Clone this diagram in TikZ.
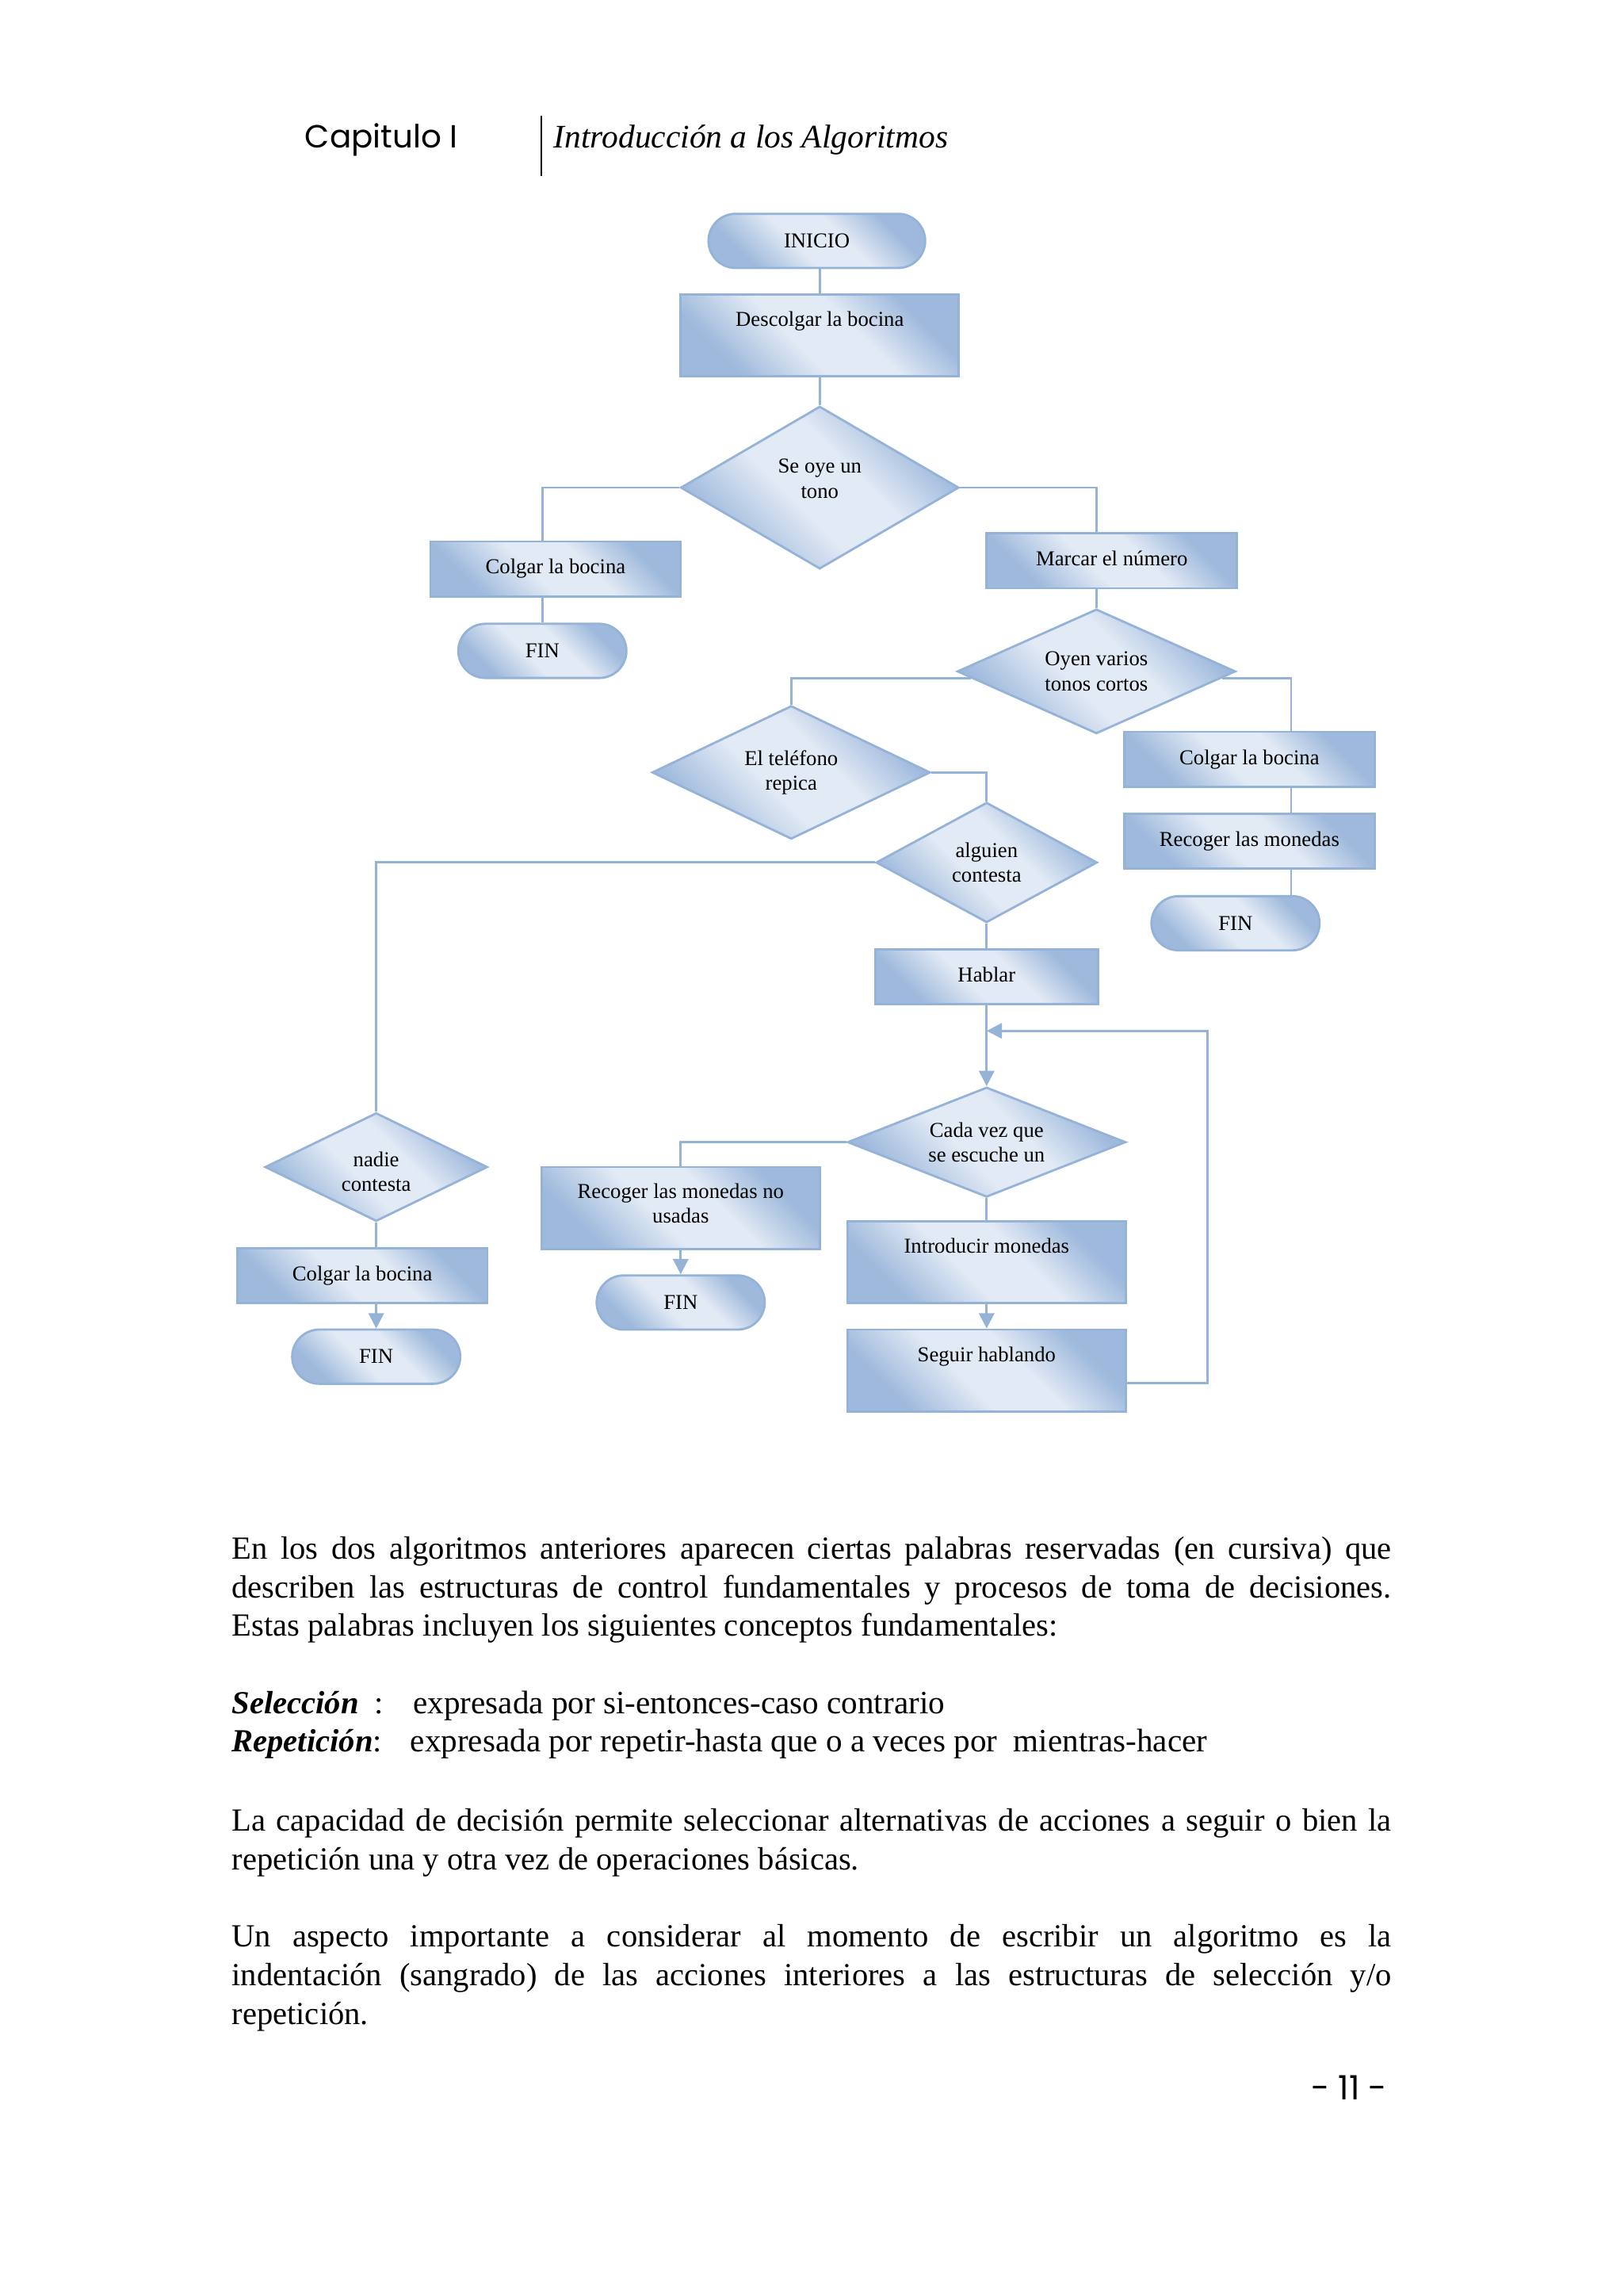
\documentclass[tikz,border=0pt]{standalone}
\usepackage{fontspec}
\setmainfont{Liberation Serif}
\newfontfamily\gothic{Poppins}
\usetikzlibrary{positioning,shapes.geometric,shapes.misc,arrows.meta}
\definecolor{fline}{RGB}{149,179,215}
\definecolor{flight}{RGB}{226,234,245}
\definecolor{fdark}{RGB}{158,185,220}
\pgfdeclareverticalshading{flow}{100bp}{color(0bp)=(fdark); color(27bp)=(fdark);
  color(44bp)=(flight); color(58bp)=(flight); color(73bp)=(fdark); color(100bp)=(fdark)}
\frenchspacing
\hyphenpenalty=10000
\tolerance=9999

\begin{document}
\begin{tikzpicture}[x=0.018467cm, y=-0.018467cm,
    chart/.style={draw=fline, line width=0.8pt, shade, shading=flow, shading angle=-45,
      inner sep=0pt, align=center, font=\fontsize{7.6}{8.9}\selectfont},
    term/.style={chart, rounded rectangle, minimum width=2.12cm, minimum height=0.683cm},
    proc/.style={chart, rectangle, minimum width=#1, minimum height=0.692cm},
    proc/.default=3.158cm,
    tall/.style={chart, rectangle, minimum width=3.509cm, text height=11.5pt, text depth=17.9pt},
    dec/.style 2 args={chart, diamond, aspect=2.5, minimum width=#1, minimum height=#2},
    ln/.style={draw=fline, line width=0.8pt},
    arr/.style={ln, -{Triangle[width=5.5pt,length=5.5pt]}},
    body/.style={inner sep=0pt, anchor=base west, font=\fontsize{11.55}{13.92}\selectfont},
    para/.style={body, text width=14.626cm, align=justify}]
  \fill[white] (0,0) rectangle (1109,1568);
  \useasboundingbox (0,0) rectangle (1109,1568);

  \node[anchor=base west, inner sep=0pt, font=\gothic\fontsize{11.5}{14}\selectfont] (cap) at (208,101) {Capitulo I};
  \draw[line width=0.5pt] (370,79) -- (370,120);
  \node[anchor=base west, inner sep=0pt, font=\itshape\fontsize{11.8}{14}\selectfont] (tit) at (378,101) {Introducción a los Algoritmos};

  \node[term, minimum width=2.733cm] (inicio) at (558,164.5) {INICIO};
  \node[tall] (desc) at (560,229) {Descolgar la bocina};
  \node[dec={3.509cm}{2.050cm}, text depth=6.4pt] (tono) at (560,333) {Se oye un\\tono};
  \node[proc] (colg1) at (379.5,388.5) {Colgar la bocina};
  \node[term] (fin1) at (370.5,444.5) {FIN};
  \node[proc, text depth=1.8pt] (marcar) at (759.5,383) {Marcar el número};
  \node[dec={3.509cm}{1.570cm}] (oyen) at (749,458.5) {Oyen varios\\tonos cortos};
  \node[dec={3.509cm}{1.681cm}] (tel) at (540.5,527.5) {El teléfono\\repica};
  \coordinate (rr) at (882,500);
  \node[proc] (colg2) at (853.5,518.5) {Colgar la bocina};
  \node[proc] (rec2) at (853.5,574.5) {Recoger las monedas};
  \node[term] (fin2) at (844,630.5) {FIN};
  \node[dec={2.789cm}{1.514cm}] (alg) at (674,589) {alguien\\contesta};
  \node[proc=2.807cm, text depth=1.8pt] (hablar) at (674,667) {Hablar};
  \coordinate (loop) at (825,704);
  \node[dec={3.509cm}{1.385cm}] (cada) at (674,780) {Cada vez que\\se escuche un};
  \node[proc=3.509cm, minimum height=1.034cm, text depth=3.4pt] (rec3) at (465,825) {Recoger las monedas no\\usadas};
  \node[term] (fin3) at (465,889.5) {FIN};
  \node[tall] (intro) at (674,862) {Introducir monedas};
  \node[tall] (seguir) at (674,936) {Seguir hablando};
  \node[dec={2.807cm}{1.367cm}] (nadie) at (257,797) {\rule{0pt}{8.5pt}nadie\\contesta};
  \node[proc] (colg3) at (247.5,871) {Colgar la bocina};
  \node[term] (fin4) at (257,926.5) {FIN};

  \draw[ln] (inicio.south -| desc.north) -- (desc.north);
  \draw[ln] (desc.south) -- (tono.north);
  \draw[ln] (tono.west) -| (fin1.north |- colg1.north);
  \draw[ln] (colg1.south -| fin1.north) -- (fin1.north);
  \draw[ln] (tono.east) -| (oyen.north |- marcar.north);
  \draw[ln] (marcar.south -| oyen.north) -- (oyen.north);
  \draw[ln] (oyen.183) -| (tel.north);
  \draw[ln] (oyen.-3) -| (rr |- colg2.north);
  \draw[ln] (colg2.south -| rr) -- (rec2.north -| rr);
  \draw[ln] (rec2.south -| rr) -- (fin2.north -| rr);
  \draw[ln] (tel.east) -| (alg.north);
  \draw[ln] (alg.west) -| (nadie.north);
  \draw[ln] (alg.south) -- (hablar.north);
  \draw[arr] (hablar.south) -- (cada.north);
  \draw[arr] (seguir.-5.4) -| (loop) -- (loop -| cada.north);
  \draw[ln] (cada.west) -| (rec3.north);
  \draw[arr] (rec3.south) -- (fin3.north);
  \draw[ln] (cada.south) -- (intro.north);
  \draw[arr] (intro.south) -- (seguir.north);
  \draw[ln] (nadie.south) -- (nadie.south |- colg3.north);
  \draw[arr] (colg3.south -| nadie.south) -- (fin4.north);

  \node[para] (p1) at (158,1064.5) {En los dos algoritmos anteriores aparecen ciertas palabras reservadas (en cursiva) que\linebreak describen las estructuras de control fundamentales y procesos de toma de decisiones.\linebreak Estas palabras incluyen los siguientes conceptos fundamentales:};
  \node[body] (sel) at (158,1170.5) {\textbf{\textit{Selección}}\ \ :};
  \node[body, font=\fontsize{11.7}{13.92}\selectfont] (seltx) at (282,1170.5) {expresada por si-entonces-caso contrario};
  \node[body] (rep) at (158,1196.5) {\textbf{\textit{Repetición}}:};
  \node[body, font=\fontsize{11.7}{13.92}\selectfont] (reptx) at (280,1196.5) {expresada por repetir-hasta que o a veces por\ \ mientras-hacer};
  \node[para] (p2) at (158,1250.5) {La capacidad de decisión permite seleccionar alternativas de acciones a seguir o bien la\linebreak repetición una y otra vez de operaciones básicas.};
  \node[para] (p3) at (158,1329.5) {Un aspecto importante a considerar al momento de escribir un algoritmo es la\linebreak indentación (sangrado) de las acciones interiores a las estructuras de selección y/o\linebreak repetición.};
  \node[anchor=base east, inner sep=0pt, font=\gothic\fontsize{12}{14}\selectfont] (pag) at (948,1434) {- 11 -};
\end{tikzpicture}
\end{document}
